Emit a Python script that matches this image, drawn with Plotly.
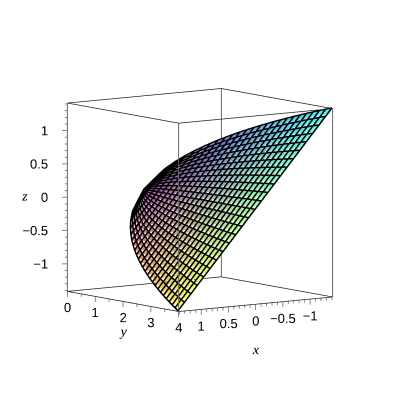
import plotly.graph_objects as go

# Rows of the surface: y value and half-width of the sheet (in x and z) at that y
y_levels = [0, 0.167, 0.333, 0.5, 0.667, 0.833, 1, 1.167, 1.333, 1.5, 1.667, 1.833, 2,
            2.167, 2.333, 2.5, 2.667, 2.833, 3, 3.167, 3.333, 3.5, 3.667, 3.833, 4]
half_width = [0, 0.289, 0.408, 0.5, 0.577, 0.645, 0.707, 0.764, 0.816, 0.866, 0.913, 0.957, 1,
              1.041, 1.08, 1.118, 1.155, 1.19, 1.225, 1.258, 1.291, 1.323, 1.354, 1.384, 1.414]
# Position across the sheet, from the z-low edge to the z-high edge
across = [-1, -0.917, -0.833, -0.75, -0.667, -0.583, -0.5, -0.417, -0.333, -0.25, -0.167, -0.083, 0,
          0.083, 0.167, 0.25, 0.333, 0.417, 0.5, 0.583, 0.667, 0.75, 0.833, 0.917, 1]

x_range = [-1.414, 1.414]
y_range = [0, 4]
z_range = [-1.414, 1.414]

x_ticks = [1, 0.5, 0, -0.5, -1]
x_labels = ["1", "0.5", "0", "−0.5", "−1"]
x_minor = [1.4, 1.3, 1.2, 1.1, 0.9, 0.8, 0.7, 0.6, 0.4, 0.3, 0.2, 0.1,
           -0.1, -0.2, -0.3, -0.4, -0.6, -0.7, -0.8, -0.9, -1.1, -1.2, -1.3, -1.4]
y_ticks = [0, 1, 2, 3, 4]
y_labels = ["0", "1", "2", "3", "4"]
y_minor = [0.5, 1.5, 2.5, 3.5]
z_ticks = [-1, -0.5, 0, 0.5, 1]
z_labels = ["−1", "−0.5", "0", "0.5", "1"]
z_minor = [1.4, 1.3, 1.2, 1.1, 0.9, 0.8, 0.7, 0.6, 0.4, 0.3, 0.2, 0.1,
           -0.1, -0.2, -0.3, -0.4, -0.6, -0.7, -0.8, -0.9, -1.1, -1.2, -1.3, -1.4]

PAD = 1.6  # scene range is wider than the frame so that ticks and labels are not clipped
SCALE = 1.583
GRID_LIFT = 0.012

nr, nc = len(y_levels), len(across)
X, Y, Z, colors = [], [], [], []
for r in range(nr):
    for c in range(nc):
        zv = half_width[r] * across[c]
        xv = -zv
        yv = y_levels[r]
        X.append(xv); Y.append(yv); Z.append(zv)
        R = (xv - x_range[0]) / (x_range[1] - x_range[0])
        G = yv / y_range[1]
        B = (zv - z_range[0]) / (z_range[1] - z_range[0])
        colors.append(f"rgb({int(75+180*R)},{int(75+180*G)},{int(75+180*B)})")

I, J, K = [], [], []
for r in range(nr - 1):
    for c in range(nc - 1):
        a = r * nc + c
        b = a + 1
        d = a + nc
        e = d + 1
        I += [a, b]; J += [b, e]; K += [e, d]

sheet = go.Mesh3d(x=X, y=Y, z=Z, i=I, j=J, k=K, vertexcolor=colors, flatshading=False,
                  lighting=dict(ambient=1, diffuse=0, specular=0, fresnel=0), hoverinfo="skip")

gx, gy, gz = [], [], []
for r in range(nr):
    for c in range(nc):
        i = r * nc + c
        gx.append(X[i] + GRID_LIFT); gy.append(Y[i]); gz.append(Z[i] + GRID_LIFT)
    gx.append(None); gy.append(None); gz.append(None)
for c in range(nc):
    for r in range(nr):
        i = r * nc + c
        gx.append(X[i] + GRID_LIFT); gy.append(Y[i]); gz.append(Z[i] + GRID_LIFT)
    gx.append(None); gy.append(None); gz.append(None)
grid = go.Scatter3d(x=gx, y=gy, z=gz, mode="lines", line=dict(color="#000", width=3), hoverinfo="skip")

x0, x1 = x_range; y0, y1 = y_range; z0, z1 = z_range
fx, fy, fz = [], [], []
for a, b in [((x0,y0,z0),(x1,y0,z0)),((x1,y0,z0),(x1,y1,z0)),((x1,y1,z0),(x0,y1,z0)),((x0,y1,z0),(x0,y0,z0)),
             ((x0,y0,z1),(x1,y0,z1)),((x1,y0,z1),(x1,y1,z1)),((x1,y1,z1),(x0,y1,z1)),((x0,y1,z1),(x0,y0,z1))]:
    fx += [a[0], b[0], None]; fy += [a[1], b[1], None]; fz += [a[2], b[2], None]
frame = go.Scatter3d(x=fx, y=fy, z=fz, mode="lines", line=dict(color="#222", width=1.5), hoverinfo="skip")

vx, vy, vz = [], [], []
for a, b in [(x0,y0),(x1,y0),(x1,y1),(x0,y1)]:
    vx += [a, a, None]; vy += [b, b, None]; vz += [z0, z1, None]
verticals = go.Scatter3d(x=vx, y=vy, z=vz, mode="lines", line=dict(color="#666", width=2), hoverinfo="skip")

# Tick marks: x and y ticks hang below the bottom edges, z ticks point left on screen
MAJOR, MINOR = 0.085, 0.045
LEFT = (0.811, -0.586)  # screen-left direction in x/y, as fractions of the frame side
tx, ty, tz = [], [], []
for vals, length in ((x_ticks, MAJOR), (x_minor, MINOR)):
    for v in vals:
        tx += [v, v, None]; ty += [y1, y1, None]; tz += [z0, z0 - length, None]
for vals, length in ((y_ticks, MAJOR), (y_minor, MINOR)):
    for v in vals:
        tx += [x1, x1, None]; ty += [v, v, None]; tz += [z0, z0 - length, None]
def left_of(frac):
    return (x1 + LEFT[0] * frac * (x1 - x0), y0 + LEFT[1] * frac * (y1 - y0))
for vals, frac in ((z_ticks, 0.028), (z_minor, 0.014)):
    for v in vals:
        px, py = left_of(frac)
        tx += [x1, px, None]; ty += [y0, py, None]; tz += [v, v, None]
ticks = go.Scatter3d(x=tx, y=ty, z=tz, mode="lines", line=dict(color="#666", width=1.5), hoverinfo="skip")

tick_font = dict(family="Liberation Sans", size=13, color="#000")
title_font = dict(family="Liberation Serif", size=14, color="#000", style="italic")
xl = go.Scatter3d(x=x_ticks, y=[y1] * 5, z=[z0 - 0.25] * 5, mode="text", text=x_labels,
                  textposition="middle center", textfont=tick_font, hoverinfo="skip")
yl = go.Scatter3d(x=[x1] * 5, y=y_ticks, z=[z0 - 0.24] * 5, mode="text", text=y_labels,
                  textposition="middle center", textfont=tick_font, hoverinfo="skip")
zp = left_of(0.036)
zl = go.Scatter3d(x=[zp[0]] * 5, y=[zp[1]] * 5, z=z_ticks, mode="text", text=z_labels,
                  textposition="middle left", textfont=tick_font, hoverinfo="skip")
zt = left_of(0.225)
titles = go.Scatter3d(x=[0, x1, zt[0]], y=[y1, 2, zt[1]], z=[z0 - 0.7, z0 - 0.49, 0], mode="text",
                      text=["x", "y", "z"], textposition="middle center", textfont=title_font, hoverinfo="skip")

hidden = dict(visible=False, showgrid=False, zeroline=False, showbackground=False, showspikes=False)
fig = go.Figure([sheet, grid, frame, verticals, ticks, xl, yl, zl, titles])
fig.update_layout(
    width=400, height=400, margin=dict(l=0, r=0, t=0, b=0), paper_bgcolor="white", showlegend=False,
    scene=dict(
        domain=dict(x=[0, 0.96], y=[0.04, 1]),
        xaxis=dict(hidden, range=[x0 * PAD, x1 * PAD]),
        yaxis=dict(hidden, range=[2 - 2 * PAD, 2 + 2 * PAD]),
        zaxis=dict(hidden, range=[z0 * PAD, z1 * PAD]),
        aspectmode="manual",
        aspectratio=dict(x=SCALE, y=SCALE, z=SCALE),
        camera=dict(projection=dict(type="orthographic"),
                    eye=dict(x=1.2, y=1.66, z=0.27), center=dict(x=0, y=0, z=0), up=dict(x=0, y=0, z=1)),
    ),
)
fig.write_html("out.html")
